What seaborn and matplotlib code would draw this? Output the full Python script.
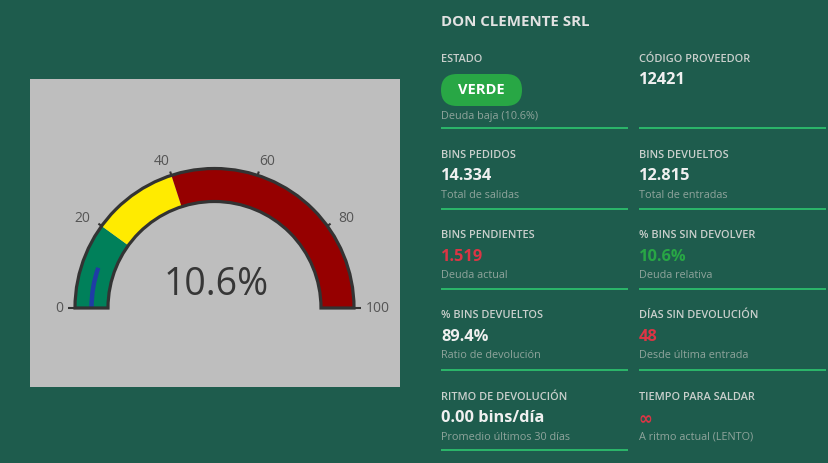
import numpy as np
import matplotlib
matplotlib.use("Agg")
import matplotlib.pyplot as plt
from matplotlib.patches import Wedge, Arc, FancyBboxPatch
import seaborn as sns

# gauge data
gauge_value = 10.6
band_edges = [0, 20, 40, 100]
band_colors = ["#00805a", "#ffeb00", "#960000"]
gauge_ticks = [0, 20, 40, 60, 80, 100]

# kpi panel data
title = "DON CLEMENTE SRL"
kpi_labels = ["ESTADO", "CÓDIGO PROVEEDOR", "BINS PEDIDOS", "BINS DEVUELTOS",
              "BINS PENDIENTES", "% BINS SIN DEVOLVER", "% BINS DEVUELTOS",
              "DÍAS SIN DEVOLUCIÓN", "RITMO DE DEVOLUCIÓN", "TIEMPO PARA SALDAR"]
kpi_values = ["VERDE", "12421", "14.334", "12.815", "1.519", "10.6%", "89.4%",
              "48", "0.00 bins/día", "∞"]
kpi_notes = ["Deuda baja (10.6%)", "", "Total de salidas", "Total de entradas",
             "Deuda actual", "Deuda relativa", "Ratio de devolución",
             "Desde última entrada", "Promedio últimos 30 días", "A ritmo actual (LENTO)"]
kpi_tones = ["pill", "plain", "plain", "plain", "bad", "good", "plain", "bad", "plain", "bad"]

BG = "#1e5c4d"
tone_colors = {"plain": "#f0f0f0", "bad": "#dc3545", "good": "#28a745"}

sns.set_theme(style="white")
plt.rcParams["font.family"] = ["Open Sans", "DejaVu Sans"]

W, H = 829, 463
fig = plt.figure(figsize=(W / 100, H / 100), dpi=100, facecolor=BG)

# overlay axes in pixel coordinates for the kpi panel
pan = fig.add_axes([0, 0, 1, 1])
pan.set_xlim(0, W)
pan.set_ylim(H, 0)
pan.axis("off")
pan.patch.set_alpha(0)

pan.text(441, 22, title, fontsize=10.8, fontweight="bold", color="#e2e2e2",
         ha="left", va="center")

col_x = [441, 639]
col_w = 187
label_y = [59, 155, 236, 316, 397]
value_y = [80, 176, 257, 337, 418]
note_y = [116, 195, 276, 356, 437]
line_y = [128, 209, 289, 370, 450]

for i, lab in enumerate(kpi_labels):
    r, c = divmod(i, 2)
    x = col_x[c]
    pan.text(x, label_y[r], lab, fontsize=7.9, fontweight="semibold",
             color="#c9cfcc", ha="left", va="center")
    tone = kpi_tones[i]
    if tone == "pill":
        pill = FancyBboxPatch((x, 74), 81, 32,
                              boxstyle="round,pad=0,rounding_size=16",
                              facecolor="#28a745", edgecolor="none")
        pan.add_patch(pill)
        pan.text(x + 40.5, 90, kpi_values[i], fontsize=10.5, fontweight="bold",
                 color="white", ha="center", va="center")
    elif kpi_values[i] == "∞":
        pan.text(x, value_y[r] + 1, kpi_values[i], fontsize=12, fontweight="bold",
                 family="DejaVu Sans", color=tone_colors[tone], ha="left", va="center")
    else:
        pan.text(x, value_y[r], kpi_values[i], fontsize=11.8, fontweight="bold",
                 color=tone_colors[tone], ha="left", va="center")
    if kpi_notes[i]:
        pan.text(x, note_y[r], kpi_notes[i], fontsize=7.8, color="#8fa49c",
                 ha="left", va="center")
    if i != len(kpi_labels) - 1:
        pan.plot([x, x + col_w], [line_y[r], line_y[r]], color="#2fcf72", lw=1.1,
                 solid_capstyle="butt")

# gauge in the grey box
gx = fig.add_axes([30 / W, (H - 387) / H, 370 / W, 308 / H])
gx.set_xlim(0, 370)
gx.set_ylim(0, 308)
gx.set_facecolor("#bebebe")
gx.set_xticks([])
gx.set_yticks([])
for s in gx.spines.values():
    s.set_visible(False)

cx, cy = 184.5, 79
r_out, r_in = 139.5, 106.5


def ang(v):
    return 180 - v * 1.8


for lo, hi, col in zip(band_edges[:-1], band_edges[1:], band_colors):
    gx.add_patch(Wedge((cx, cy), r_out, ang(hi), ang(lo), width=r_out - r_in,
                       facecolor=col, edgecolor="none"))

gx.add_patch(Arc((cx, cy), 2 * 123, 2 * 123, theta1=ang(gauge_value), theta2=180,
                 color="#1f3ca6", lw=3.2))

gx.add_patch(Wedge((cx, cy), r_out, 0, 180, width=r_out - r_in,
                   facecolor="none", edgecolor="#333333", lw=2.3))

for v in gauge_ticks:
    a = np.deg2rad(ang(v))
    ext = 7 if v in (0, 100) else 4
    gx.plot([cx + r_out * np.cos(a), cx + (r_out + ext) * np.cos(a)],
            [cy + r_out * np.sin(a), cy + (r_out + ext) * np.sin(a)],
            color="#333333", lw=1.5, solid_capstyle="butt")
    if v == 0:
        gx.text(cx - 151, cy, str(v), fontsize=10, color="#555555",
                ha="right", va="center")
    elif v == 100:
        gx.text(cx + 151, cy, str(v), fontsize=10, color="#555555",
                ha="left", va="center")
    else:
        side = np.sign(np.cos(a))
        gx.text(cx + 157.5 * np.cos(a) + 4.5 * side, cy + 157.5 * np.sin(a) - 3,
                str(v), fontsize=10, color="#555555", ha="center", va="center")

gx.text(cx + 1.5, cy + 23, f"{gauge_value}%", fontsize=27, color="#363636",
        ha="center", va="center")

fig.savefig("out.png", dpi=100, facecolor=BG)
